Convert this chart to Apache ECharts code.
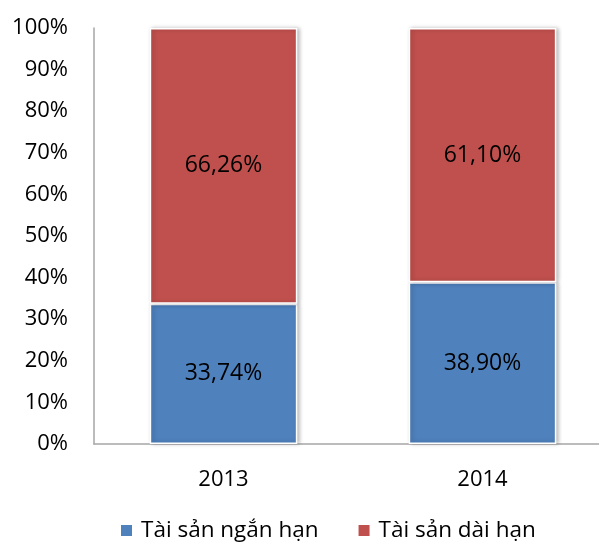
<!DOCTYPE html>
<html><head><meta charset="utf-8">
<script src="https://cdn.jsdelivr.net/npm/echarts@6/dist/echarts.min.js"></script>
<style>html,body{margin:0;padding:0;background:#fff;overflow:hidden}#c{width:612px;height:545px}</style>
</head><body><div id="c"></div>
<script>
const categories = ['2013', '2014'];
const shortTerm = [33.74, 38.90];
const longTerm = [66.26, 61.10];
const seriesNames = ['Tài sản ngắn hạn', 'Tài sản dài hạn'];
const yTicks = [0, 10, 20, 30, 40, 50, 60, 70, 80, 90, 100];

const font = '"Open Sans", sans-serif';
const fmt = p => p.value.toFixed(2).replace('.', ',') + '%';
const chart = echarts.init(document.getElementById('c'));
chart.setOption({
  animation: false,
  textStyle: { fontFamily: font },
  grid: { left: 94, right: 0, top: 28, bottom: 101, containLabel: false },
  legend: {
    left: 114, top: 514, itemWidth: 13, itemHeight: 13, itemGap: 38, icon: 'rect',
    textStyle: { fontSize: 22.5, color: '#000', fontFamily: font, padding: [0, 0, 0, 3] },
    data: seriesNames
  },
  xAxis: {
    type: 'category', data: categories,
    axisLine: { lineStyle: { color: '#a6a6a6', width: 1.5 } },
    axisTick: { show: false },
    axisLabel: { fontSize: 22, color: '#000', margin: 25, fontFamily: font }
  },
  yAxis: {
    type: 'value', min: yTicks[0], max: yTicks[yTicks.length - 1], interval: 10,
    axisLine: { show: true, lineStyle: { color: '#a6a6a6', width: 1.5 } },
    axisTick: { show: false },
    splitLine: { show: false },
    axisLabel: { fontSize: 22, color: '#000', margin: 26, formatter: v => v + '%', fontFamily: font }
  },
  series: [
    {
      name: seriesNames[0], type: 'bar', stack: 'a', data: shortTerm, barWidth: '57%',
      itemStyle: { color: '#4f81bd', borderColor: '#fff', borderWidth: 1.5, shadowColor: 'rgba(0,0,0,0.25)', shadowBlur: 4, shadowOffsetX: 2 },
      label: { show: true, position: 'inside', fontSize: 23, color: '#000', formatter: fmt, fontFamily: font }
    },
    {
      name: seriesNames[1], type: 'bar', stack: 'a', data: longTerm, barWidth: '57%',
      itemStyle: { color: '#c0504d', borderColor: '#fff', borderWidth: 1.5, shadowColor: 'rgba(0,0,0,0.25)', shadowBlur: 4, shadowOffsetX: 2 },
      label: { show: true, position: 'inside', fontSize: 23, color: '#000', formatter: fmt, fontFamily: font }
    }
  ]
});
</script></body></html>
